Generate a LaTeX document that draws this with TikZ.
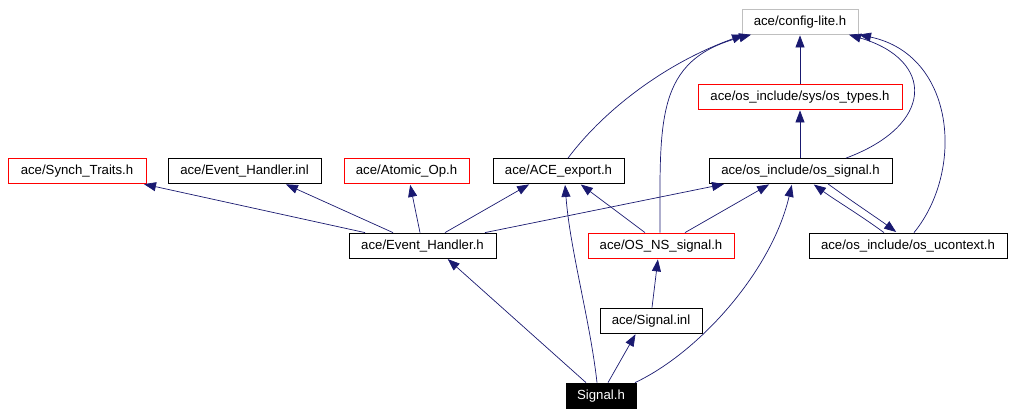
\documentclass[tikz,border=0pt]{standalone}
\usepackage{fontspec}
\setmainfont{Liberation Sans}
\usetikzlibrary{arrows.meta}
\definecolor{edgeblue}{RGB}{25,25,112}
\definecolor{lgray}{RGB}{191,191,191}
\tikzset{
  fbox/.style={draw=black, line width=0.8pt, inner sep=0pt, minimum height=25pt,
    font=\fontsize{13.2}{15}\selectfont, text height=9.5pt, text depth=2.5pt},
  redbox/.style={fbox, draw=red},
  graybox/.style={fbox, draw=lgray},
  mainbox/.style={fbox, fill=black, text=white},
  inc/.style={draw=edgeblue, line width=0.7pt, -{Triangle[length=12pt,width=9pt]}, shorten >=1pt}
}
\begin{document}
\begin{tikzpicture}[x=1pt,y=-1pt]
\useasboundingbox (0,0) rectangle (1014,415);
\node[graybox, minimum width=116pt] (cfg) at (800,21.5) {ace/config-lite.h};
\node[redbox, minimum width=204pt] (ostypes) at (800,96.5) {ace/os\_include/sys/os\_types.h};
\node[fbox, minimum width=183pt] (ossig) at (800.5,171) {ace/os\_include/os\_signal.h};
\node[redbox, minimum width=138pt] (synch) at (77,171) {ace/Synch\_Traits.h};
\node[fbox, minimum width=153pt] (ehinl) at (244.5,171) {ace/Event\_Handler.inl};
\node[redbox, minimum width=125pt] (atomic) at (406.5,171) {ace/Atomic\_Op.h};
\node[fbox, minimum width=131pt] (aceexp) at (558.5,171) {ace/ACE\_export.h};
\node[fbox, minimum width=147pt] (ehh) at (422.5,245.5) {ace/Event\_Handler.h};
\node[redbox, minimum width=146pt] (osns) at (661,245.5) {ace/OS\_NS\_signal.h};
\node[fbox, minimum width=198pt] (osuc) at (908,245.5) {ace/os\_include/os\_ucontext.h};
\node[fbox, minimum width=102pt] (siginl) at (651,320.5) {ace/Signal.inl};
\node[mainbox, minimum width=70pt] (sigh) at (601,395.5) {Signal.h};

% Signal.h
\draw[inc] ([xshift=-15]sigh.north) -- ([xshift=24.5]ehh.south);
\draw[inc] ([xshift=-4]sigh.north) .. controls (590,320) and (570,250) .. ([xshift=6.5]aceexp.south);
\draw[inc] ([xshift=7]sigh.north) -- ([xshift=-15]siginl.south);
\draw[inc] ([xshift=34]sigh.north) .. controls (700,352) and (772,270) .. ([xshift=-8.5]ossig.south);
% Signal.inl
\draw[inc] ([xshift=1]siginl.north) -- ([xshift=-3]osns.south);
% OS_NS_signal
\draw[inc] ([xshift=-16]osns.north) -- ([xshift=21.5]aceexp.south);
\draw[inc] ([xshift=24]osns.north) -- ([xshift=-30.5]ossig.south);
\draw[inc] ([xshift=-1]osns.north) .. controls (660,120) and (655,60) .. ([xshift=-48]cfg.south);
% Event_Handler.h
\draw[inc] ([xshift=-57.5]ehh.north) -- ([xshift=66]synch.south);
\draw[inc] ([xshift=-29.5]ehh.north) -- ([xshift=40.5]ehinl.south);
\draw[inc] ([xshift=-2.5]ehh.north) -- ([xshift=3.5]atomic.south);
\draw[inc] ([xshift=22.5]ehh.north) -- ([xshift=-28.5]aceexp.south);
\draw[inc] ([xshift=62.5]ehh.north) -- ([xshift=-75.5]ossig.south);
% ACE_export
\draw[inc] ([xshift=9.5]aceexp.north) .. controls (600,115) and (660,65) .. ([xshift=-55]cfg.south);
% os_signal
\draw[inc] ([xshift=-0.5]ossig.north) -- (ostypes.south);
\draw[inc] (ostypes.north) -- (cfg.south);
\draw[inc] ([xshift=45.5]ossig.north) .. controls (935,125) and (935,60) .. ([xshift=48]cfg.south);
\draw[inc] ([xshift=27.5]ossig.south) .. controls (850,200) and (880,220) .. ([xshift=-11]osuc.north);
% os_ucontext
\draw[inc] ([xshift=-24]osuc.north) .. controls (860,215) and (835,200) .. ([xshift=12.5]ossig.south);
\draw[inc] ([xshift=6]osuc.north) .. controls (965,170) and (955,55) .. ([xshift=58]cfg.south);
\end{tikzpicture}
\end{document}
